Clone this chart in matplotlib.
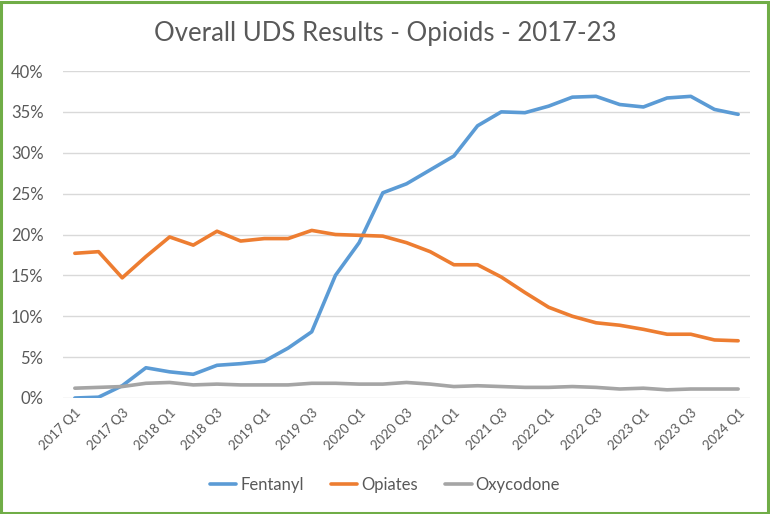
import matplotlib
matplotlib.use("Agg")
import matplotlib.pyplot as plt
from matplotlib.patches import Rectangle

plt.rcParams['font.family'] = ['Lato', 'DejaVu Sans']

quarters = [f"{y} Q{q}" for y in range(2017, 2025) for q in range(1, 5)][:29]
fentanyl = [0.0, 0.1, 1.5, 3.7, 3.2, 2.9, 4.0, 4.2, 4.5, 6.1, 8.1, 15.0, 19.0, 25.1, 26.2,
            27.9, 29.6, 33.3, 35.0, 34.9, 35.7, 36.8, 36.9, 35.9, 35.6, 36.7, 36.9, 35.3, 34.7]
opiates = [17.7, 17.9, 14.7, 17.3, 19.7, 18.7, 20.4, 19.2, 19.5, 19.5, 20.5, 20.0, 19.9, 19.8, 19.0,
           17.9, 16.3, 16.3, 14.8, 12.9, 11.1, 10.0, 9.2, 8.9, 8.4, 7.8, 7.8, 7.1, 7.0]
oxycodone = [1.2, 1.3, 1.4, 1.8, 1.9, 1.6, 1.7, 1.6, 1.6, 1.6, 1.8, 1.8, 1.7, 1.7, 1.9,
             1.7, 1.4, 1.5, 1.4, 1.3, 1.3, 1.4, 1.3, 1.1, 1.2, 1.0, 1.1, 1.1, 1.1]
yticks = [0, 5, 10, 15, 20, 25, 30, 35, 40]

fig = plt.figure(figsize=(7.7, 5.14), dpi=100)
ax = fig.add_axes([63/770, 116/514, 687/770, 327/514])

x = list(range(len(quarters)))
ax.plot(x, fentanyl, color='#5B9BD5', lw=2.6, label='Fentanyl', solid_capstyle='round')
ax.plot(x, opiates, color='#ED7D31', lw=2.6, label='Opiates', solid_capstyle='round')
ax.plot(x, oxycodone, color='#A5A5A5', lw=2.6, label='Oxycodone', solid_capstyle='round')

ax.set_xlim(-0.5, len(quarters) - 0.5)
ax.set_ylim(0, 40)
ax.set_yticks(yticks)
ax.set_yticklabels([f"{v}%" for v in yticks], color='#595959', fontsize=12)
ax.set_xticks(x[::2])
ax.set_xticklabels(quarters[::2], rotation=45, ha='right', va='top', rotation_mode='anchor',
                   color='#595959', fontsize=9.5)
ax.tick_params(axis='both', length=0)
ax.tick_params(axis='y', pad=14)
ax.tick_params(axis='x', pad=6)
ax.grid(axis='y', color='#D9D9D9', lw=1)
ax.set_axisbelow(True)
for s in ax.spines.values():
    s.set_visible(False)

fig.text(0.5, 1 - 33/514, 'Overall UDS Results - Opioids - 2017-23', ha='center', va='center',
         fontsize=18.5, color='#595959')

leg = fig.legend(loc='center', bbox_to_anchor=(0.5, 1 - 485/514), ncol=3, frameon=False,
                 fontsize=12, handlelength=1.6, handletextpad=0.25, columnspacing=1.6)
for t in leg.get_texts():
    t.set_color('#595959')

fig.patches.append(Rectangle((1/770, 1/514), 767/770, 511/514, transform=fig.transFigure,
                             fill=False, edgecolor='#70AD47', lw=2.2))

fig.savefig('out.png', dpi=100)
